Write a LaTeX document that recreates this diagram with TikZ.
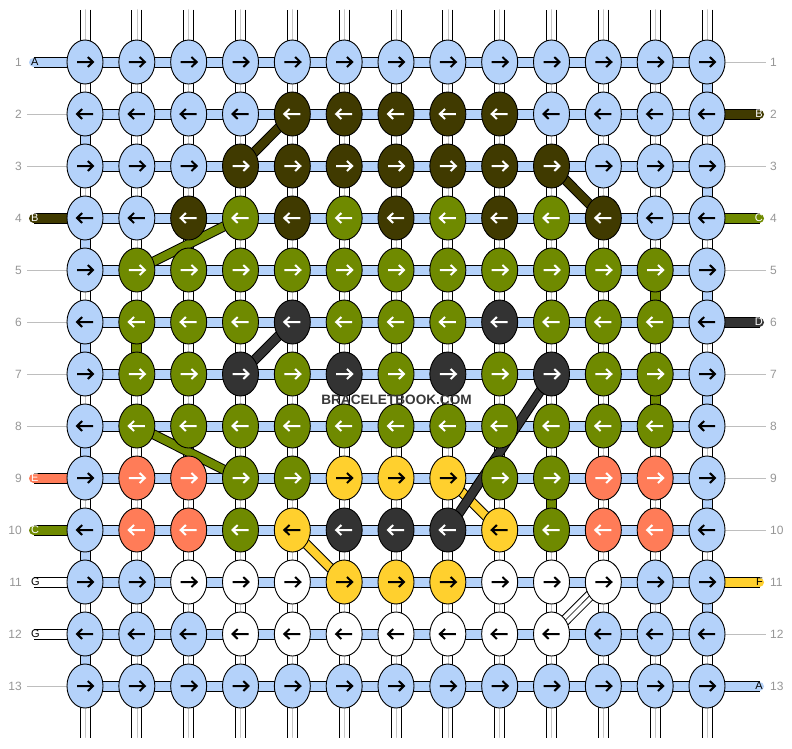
\documentclass[tikz,border=0pt]{standalone}
\usepackage{fontspec}
\setmainfont{Liberation Sans}
\usetikzlibrary{shapes.geometric}
\definecolor{fL}{RGB}{180,210,250}
\definecolor{fO}{RGB}{64,58,0}
\definecolor{fG}{RGB}{111,138,0}
\definecolor{fD}{RGB}{51,51,51}
\definecolor{fR}{RGB}{255,124,88}
\definecolor{fY}{RGB}{255,208,46}
\definecolor{fW}{RGB}{255,255,255}
\colorlet{aL}{black}\colorlet{aY}{black}\colorlet{aW}{black}
\colorlet{aO}{white}\colorlet{aG}{white}\colorlet{aD}{white}\colorlet{aR}{white}
\definecolor{numgray}{RGB}{150,150,150}
\definecolor{linegray}{RGB}{190,190,190}
\definecolor{wmark}{RGB}{55,55,55}
\pgfdeclarelayer{strings}\pgfdeclarelayer{diag}\pgfdeclarelayer{top}
\pgfsetlayers{strings,diag,main,top}
\tikzset{
  knot/.style={ellipse, draw=black, line width=0.9pt, minimum width=36pt, minimum height=44pt, inner sep=0pt},
  arr/.style={line width=2pt, line join=miter},
  band/.style={line width=9pt, preaction={draw=black, line width=11pt}},
  wband/.style={line width=9pt, draw=white, preaction={draw=black, line width=11pt}, postaction={draw=black!22, line width=0.5pt}},
  dband/.style={line width=8pt, preaction={draw=black, line width=10pt}},
  wdband/.style={line width=9pt, draw=white, preaction={draw=black, line width=11pt}, postaction={draw=black, line width=0.6pt}},
  gline/.style={draw=linegray, line width=0.9pt},
  rownum/.style={text=numgray, font=\fontsize{12}{12}\selectfont, inner sep=0pt},
  stublabel/.style={font=\fontsize{11}{11}\selectfont, inner sep=0pt}
}
\begin{document}
\begin{tikzpicture}[x=1pt,y=-1pt]
\useasboundingbox (0,0) rectangle (792,748);
% knots
\foreach \r/\lst in {
 1/{L,L,L,L,L,L,L,L,L,L,L,L,L},
 2/{L,L,L,L,O,O,O,O,O,L,L,L,L},
 3/{L,L,L,O,O,O,O,O,O,O,L,L,L},
 4/{L,L,O,G,O,G,O,G,O,G,O,L,L},
 5/{L,G,G,G,G,G,G,G,G,G,G,G,L},
 6/{L,G,G,G,D,G,G,G,D,G,G,G,L},
 7/{L,G,G,D,G,D,G,D,G,D,G,G,L},
 8/{L,G,G,G,G,G,G,G,G,G,G,G,L},
 9/{L,R,R,G,G,Y,Y,Y,G,G,R,R,L},
 10/{L,R,R,G,Y,D,D,D,Y,G,R,R,L},
 11/{L,L,W,W,W,Y,Y,Y,W,W,W,L,L},
 12/{L,L,L,W,W,W,W,W,W,W,L,L,L},
 13/{L,L,L,L,L,L,L,L,L,L,L,L,L}}{
  \pgfmathsetmacro\y{62+(\r-1)*52}
  \pgfmathsetmacro\dir{mod(\r,2)==1 ? 1 : -1}
  \foreach \k [count=\c] in \lst {
    \pgfmathsetmacro\x{85+(\c-1)*51.8333}
    \node[knot, fill=f\k] (k\r-\c) at (\x,\y) {};
    \draw[arr, draw=a\k, shift={(\x,\y)}, xscale=\dir] (-8,0) -- (7.5,0) (2.8,-5) -- (8,0) -- (2.8,5);
  }
}
% strings
\begin{pgfonlayer}{strings}
\foreach \c in {1,...,13}{
  \pgfmathsetmacro\x{85+(\c-1)*51.8333}
  \coordinate (t\c) at (\x,9.5);
  \coordinate (b\c) at (\x,737.5);
  \draw[wband, line cap=round] (t\c) -- (k1-\c.center);
  \draw[wband, line cap=round] (b\c) -- (k13-\c.center);
  \foreach \r in {1,...,12}{
    \pgfmathtruncatemacro\rr{\r+1}
    \draw[wband] (k\r-\c.center) -- (k\rr-\c.center);
  }
}
\foreach \r/\c/\k in {2/1/L,4/1/L,6/1/L,8/1/L,10/1/L,12/1/L,
  1/13/L,3/13/L,5/13/L,7/13/L,9/13/L,11/13/L,
  6/2/G,5/12/G,7/12/G,9/10/G}{
  \pgfmathtruncatemacro\rr{\r+1}
  \draw[band, draw=f\k] (k\r-\c.center) -- (k\rr-\c.center);
}
\foreach \r in {1,...,13}{
  \foreach \c in {1,...,12}{
    \pgfmathtruncatemacro\cc{\c+1}
    \draw[band, draw=fL] (k\r-\c.center) -- (k\r-\cc.center);
  }
}
% left stubs
\foreach \r/\k/\t in {1/L/A,4/O/B,9/R/E,10/G/C,11/W/G,12/W/G}{
  \pgfmathsetmacro\y{62+(\r-1)*52}
  \coordinate (sl\r) at (33.5,\y);
  \draw[band, line cap=round, draw=f\k] (sl\r) -- (k\r-1.center);
  \node[stublabel, anchor=west, text=a\k] (ll\r) at (31,\y) {\t};
}
% right stubs
\foreach \r/\k/\t in {2/O/B,4/G/C,6/D/D,11/Y/F,13/L/A}{
  \pgfmathsetmacro\y{62+(\r-1)*52}
  \coordinate (sr\r) at (759.5,\y);
  \draw[band, line cap=round, draw=f\k] (k\r-13.center) -- (sr\r);
  \node[stublabel, anchor=east, text=a\k] (lr\r) at (763,\y) {\t};
}
% grey guide lines
\foreach \r in {2,3,5,6,7,8,13}{
  \pgfmathsetmacro\y{62+(\r-1)*52}
  \coordinate (gl\r) at (27,\y);
  \draw[gline] (gl\r) -- (k\r-1.center);
}
\foreach \r in {1,3,5,7,8,9,10,12}{
  \pgfmathsetmacro\y{62+(\r-1)*52}
  \coordinate (gr\r) at (766,\y);
  \draw[gline] (k\r-13.center) -- (gr\r);
}
\end{pgfonlayer}
% diagonals
\begin{pgfonlayer}{diag}
\draw[dband, draw=fO] (k2-5.center) -- (k3-4.center);
\draw[dband, draw=fO] (k3-10.center) -- (k4-11.center);
\draw[dband, draw=fG] (k4-4.center) -- (k5-2.center);
\draw[dband, draw=fG] (k8-2.center) -- (k9-4.center);
\draw[dband, draw=fD] (k6-5.center) -- (k7-4.center);
\draw[dband, draw=fY] (k9-8.center) -- (k10-9.center);
\draw[dband, draw=fD] (k7-10.center) -- (k10-8.center);
\draw[dband, draw=fY] (k10-5.center) -- (k11-6.center);
\draw[wdband] (k12-10.center) -- (k11-11.center);
\end{pgfonlayer}
% row numbers
\foreach \r in {1,...,13}{
  \pgfmathsetmacro\y{62+(\r-1)*52}
  \node[rownum, anchor=east] (nl\r) at (22,\y) {\r};
  \node[rownum, anchor=west] (nr\r) at (770,\y) {\r};
}
\begin{pgfonlayer}{top}
\node[font=\bfseries\fontsize{13.6}{14}\selectfont, text=wmark, inner sep=0pt] (wm) at (396.5,400) {BRACELETBOOK.COM};
\end{pgfonlayer}
\end{tikzpicture}
\end{document}
